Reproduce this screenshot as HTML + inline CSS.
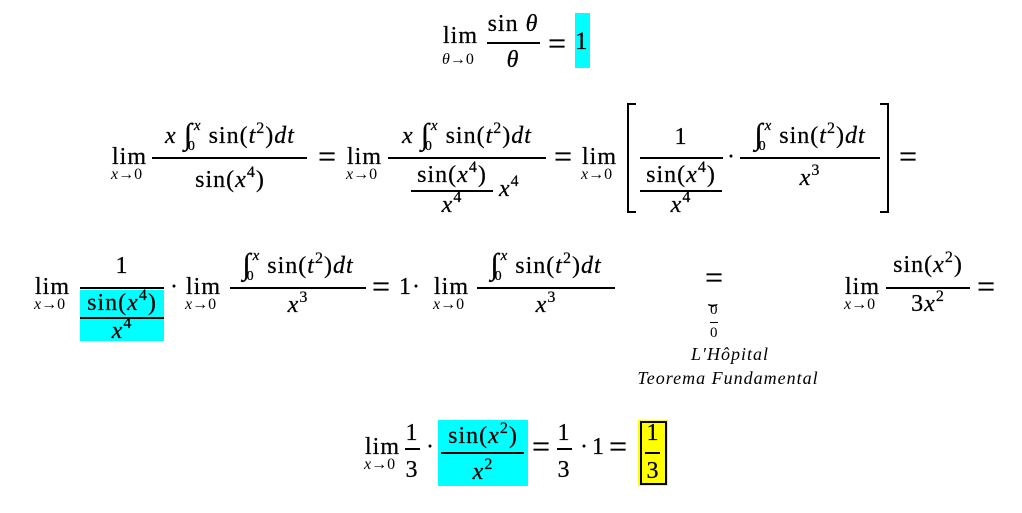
<!DOCTYPE html>
<html><head><meta charset="utf-8"><style>
body{margin:0;width:1022px;height:513px;background:#fff;position:relative;overflow:hidden;font-family:"Liberation Serif",serif;color:#000}
.t{position:absolute;font-size:24px;line-height:24px;white-space:nowrap;letter-spacing:1px;-webkit-text-stroke:0.25px #000}
.c{text-align:center;width:200px}
.s{position:absolute;font-size:16px;line-height:17px;white-space:nowrap}
.sp{font-size:16px;position:relative;top:-10px}
.lo{font-size:14px;position:relative;top:7px;margin-left:-5px}
.hi{font-size:15px;position:relative;top:-13px;font-style:italic;margin-left:-2px}
.in{font-size:30px;position:relative;top:1px}
.eq{font-size:32px;letter-spacing:0}
.b{position:absolute;height:2px;background:#000}
.box{position:absolute}
i{font-style:italic}
</style></head><body>

<!-- Line 1 -->
<div class="t" style="left:443px;top:24px">lim</div>
<div class="s" style="left:442px;top:51px"><i>θ</i>→0</div>
<div class="t c" style="left:413px;top:12px">sin <i>θ</i></div>
<div class="b" style="left:487px;top:42px;width:53px"></div>
<div class="t c" style="left:413px;top:48px"><i>θ</i></div>
<div class="t eq" style="left:548px;top:31px">=</div>
<div class="box" style="left:575px;top:13px;width:15px;height:55px;background:#00ffff"></div>
<div class="t" style="left:575px;top:30px;font-size:25px">1</div>

<!-- Line 2 -->
<div class="t" style="left:112px;top:145px">lim</div>
<div class="s" style="left:111px;top:166px"><i>x</i>→0</div>
<div class="t c" style="left:130px;top:122px"><i>x</i> <span class="in">∫</span><span class="lo">0</span><span class="hi">x</span> sin(<i>t</i><span class="sp">2</span>)<i>dt</i></div>
<div class="b" style="left:152px;top:157px;width:155px"></div>
<div class="t c" style="left:130px;top:168px">sin(<i>x</i><span class="sp">4</span>)</div>
<div class="t eq" style="left:318px;top:144px">=</div>

<div class="t" style="left:347px;top:145px">lim</div>
<div class="s" style="left:346px;top:166px"><i>x</i>→0</div>
<div class="t c" style="left:367px;top:122px"><i>x</i> <span class="in">∫</span><span class="lo">0</span><span class="hi">x</span> sin(<i>t</i><span class="sp">2</span>)<i>dt</i></div>
<div class="b" style="left:388px;top:157px;width:158px"></div>
<div class="t c" style="left:352px;top:163px">sin(<i>x</i><span class="sp">4</span>)</div>
<div class="b" style="left:411px;top:190px;width:82px"></div>
<div class="t c" style="left:352px;top:193px"><i>x</i><span class="sp">4</span></div>
<div class="t" style="left:499px;top:177px"><i>x</i><span class="sp">4</span></div>
<div class="t eq" style="left:554px;top:144px">=</div>

<div class="t" style="left:582px;top:145px">lim</div>
<div class="s" style="left:581px;top:166px"><i>x</i>→0</div>
<div class="box" style="left:627px;top:103px;width:7px;height:106px;border:2.5px solid #000;border-right:none"></div>
<div class="t c" style="left:581px;top:125px">1</div>
<div class="b" style="left:640px;top:157px;width:83px"></div>
<div class="t c" style="left:581px;top:163px">sin(<i>x</i><span class="sp">4</span>)</div>
<div class="b" style="left:640px;top:190px;width:82px"></div>
<div class="t c" style="left:581px;top:193px"><i>x</i><span class="sp">4</span></div>
<div class="t" style="left:727px;top:145px">·</div>
<div class="t c" style="left:710px;top:122px"><span class="in">∫</span><span class="lo">0</span><span class="hi">x</span> sin(<i>t</i><span class="sp">2</span>)<i>dt</i></div>
<div class="b" style="left:740px;top:157px;width:140px"></div>
<div class="t c" style="left:710px;top:166px"><i>x</i><span class="sp">3</span></div>
<div class="box" style="left:880px;top:103px;width:7px;height:106px;border:2.5px solid #000;border-left:none"></div>
<div class="t eq" style="left:899px;top:144px">=</div>

<!-- Line 3 -->
<div class="t" style="left:35px;top:275px">lim</div>
<div class="s" style="left:34px;top:296px"><i>x</i>→0</div>
<div class="t c" style="left:22px;top:254px">1</div>
<div class="b" style="left:80px;top:287px;width:84px"></div>
<div class="box" style="left:80px;top:290px;width:84px;height:51px;background:#00ffff"></div>
<div class="t c" style="left:22px;top:291px">sin(<i>x</i><span class="sp">4</span>)</div>
<div class="b" style="left:80px;top:317px;width:84px"></div>
<div class="t c" style="left:22px;top:319px"><i>x</i><span class="sp">4</span></div>
<div class="t" style="left:170px;top:275px">·</div>
<div class="t" style="left:186px;top:275px">lim</div>
<div class="s" style="left:185px;top:296px"><i>x</i>→0</div>
<div class="t c" style="left:198px;top:252px"><span class="in">∫</span><span class="lo">0</span><span class="hi">x</span> sin(<i>t</i><span class="sp">2</span>)<i>dt</i></div>
<div class="b" style="left:230px;top:287px;width:136px"></div>
<div class="t c" style="left:198px;top:293px"><i>x</i><span class="sp">3</span></div>
<div class="t eq" style="left:372px;top:274px">=</div>
<div class="t" style="left:399px;top:275px">1</div>
<div class="t" style="left:412px;top:275px">·</div>
<div class="t" style="left:434px;top:275px">lim</div>
<div class="s" style="left:433px;top:296px"><i>x</i>→0</div>
<div class="t c" style="left:446px;top:252px"><span class="in">∫</span><span class="lo">0</span><span class="hi">x</span> sin(<i>t</i><span class="sp">2</span>)<i>dt</i></div>
<div class="b" style="left:477px;top:287px;width:138px"></div>
<div class="t c" style="left:446px;top:293px"><i>x</i><span class="sp">3</span></div>

<div class="t eq" style="left:705px;top:265px">=</div>
<div class="s" style="left:708px;top:289px;font-size:16px">⏟</div>
<div class="s" style="left:710px;top:302px;font-size:15px">0</div>
<div class="b" style="left:710px;top:322px;width:8px;height:1px"></div>
<div class="s" style="left:710px;top:325px;font-size:15px">0</div>
<div class="s" style="left:630px;top:346px;width:200px;text-align:center;font-style:italic;font-size:18px;letter-spacing:1px">L′Hôpital</div>
<div class="s" style="left:605px;top:370px;width:246px;text-align:center;font-style:italic;font-size:18px;letter-spacing:1px">Teorema Fundamental</div>

<div class="t" style="left:845px;top:275px">lim</div>
<div class="s" style="left:844px;top:296px"><i>x</i>→0</div>
<div class="t c" style="left:828px;top:253px">sin(<i>x</i><span class="sp">2</span>)</div>
<div class="b" style="left:886px;top:287px;width:84px"></div>
<div class="t c" style="left:828px;top:292px">3<i>x</i><span class="sp">2</span></div>
<div class="t eq" style="left:977px;top:274px">=</div>

<!-- Line 4 -->
<div class="t" style="left:365px;top:435px">lim</div>
<div class="s" style="left:364px;top:456px"><i>x</i>→0</div>
<div class="t c" style="left:312px;top:421px">1</div>
<div class="b" style="left:405px;top:448px;width:15px"></div>
<div class="t c" style="left:312px;top:458px">3</div>
<div class="t" style="left:426px;top:435px">·</div>
<div class="box" style="left:438px;top:420px;width:90px;height:66px;background:#00ffff"></div>
<div class="t c" style="left:383px;top:424px">sin(<i>x</i><span class="sp">2</span>)</div>
<div class="b" style="left:441px;top:452px;width:83px"></div>
<div class="t c" style="left:383px;top:460px"><i>x</i><span class="sp">2</span></div>
<div class="t eq" style="left:532px;top:434px">=</div>
<div class="t c" style="left:464px;top:421px">1</div>
<div class="b" style="left:557px;top:448px;width:15px"></div>
<div class="t c" style="left:464px;top:458px">3</div>
<div class="t" style="left:580px;top:435px">·</div>
<div class="t" style="left:592px;top:435px">1</div>
<div class="t eq" style="left:609px;top:434px">=</div>
<div class="box" style="left:638px;top:420px;width:30px;height:66px;background:#ffff00"></div>
<div class="box" style="left:640px;top:421px;width:23px;height:60px;border:2px solid #000"></div>
<div class="t c" style="left:553px;top:421px">1</div>
<div class="b" style="left:645px;top:452px;width:15px"></div>
<div class="t c" style="left:553px;top:459px">3</div>

</body></html>
